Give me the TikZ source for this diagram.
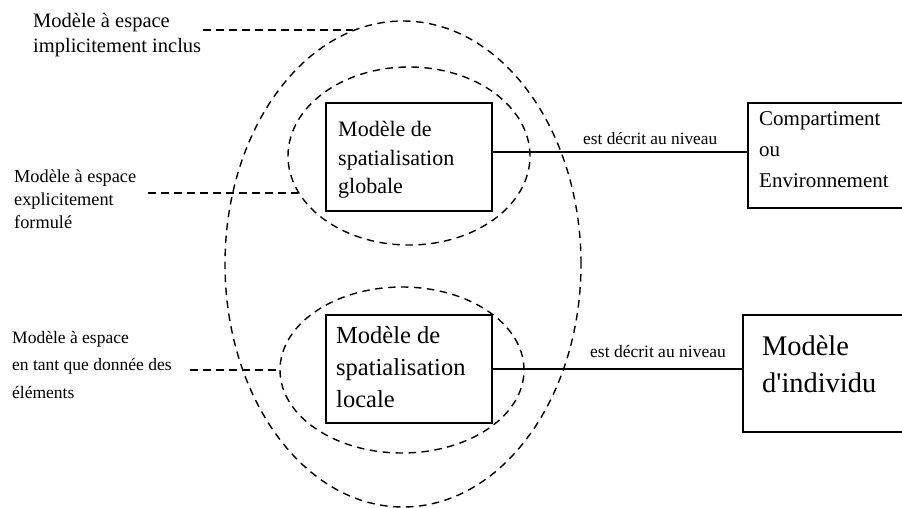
\documentclass[tikz,border=0pt]{standalone}
\usepackage{fontspec}
\setmainfont{Liberation Serif}[Ligatures=TeXOff]
\usetikzlibrary{shapes.geometric}
\begin{document}
\begin{tikzpicture}[x=1pt,y=-1pt,
  zone/.style={draw, ellipse, inner sep=0pt, line width=1.4pt, dash pattern=on 7.5pt off 5.5pt},
  lead/.style={line width=1.3pt, dash pattern=on 7.5pt off 5.5pt},
  box/.style={draw, rectangle, inner sep=0pt, line width=1.3pt},
  link/.style={line width=1.1pt},
  txt/.style={anchor=base west, inner sep=0pt, align=left},
]
\useasboundingbox (0,0) rectangle (902,508);

% nested dashed zones
\node[zone, minimum width=356pt, minimum height=486pt] (outer) at (403,264) {};
\node[zone, minimum width=242pt, minimum height=178pt] (upper) at (409,156) {};
\node[zone, minimum width=244pt, minimum height=166pt] (lower) at (402,370) {};

% model boxes
\node[box, minimum width=166pt, minimum height=108pt] (gbox) at (409,157) {};
\node[box, minimum width=166pt, minimum height=108pt] (lbox) at (409,369) {};
\node[box, minimum width=157pt, minimum height=105pt] (comp) at (826.5,155.5) {};
\node[box, minimum width=162pt, minimum height=117pt] (indiv) at (824,373.5) {};

% box texts (anchored at the baseline of their last line)
\node[txt, font=\fontsize{22}{28}\selectfont] (gtext) at (338,193)
  {Modèle de\\spatialisation\\globale};
\node[txt, font=\fontsize{24.5}{32}\selectfont] (ltext) at (336,407)
  {Modèle de\\spatialisation\\locale};
\node[txt, font=\fontsize{21}{31}\selectfont] (ctext) at (759,187)
  {Compartiment\\ou\\Environnement};
\node[txt, font=\fontsize{28.4}{37}\selectfont] (itext) at (762,392)
  {Modèle\\d'individu};

% links between levels
\draw[link] ([yshift=5pt]gbox.east) coordinate (ga) -- (ga -| comp.west);
\draw[link] (lbox.east) -- (lbox.east -| indiv.west);
\node[txt, font=\fontsize{17.3}{20}\selectfont] (lk1) at (583,144) {est décrit au niveau};
\node[txt, font=\fontsize{17.5}{20}\selectfont] (lk2) at (590,357) {est décrit au niveau};

% side labels
\node[txt, font=\fontsize{20.5}{25}\selectfont] (lab1) at (33,53)
  {Modèle à espace\\implicitement inclus};
\node[txt, font=\fontsize{18.3}{23}\selectfont] (lab2) at (14,228)
  {Modèle à espace\\explicitement\\formulé};
\node[txt, font=\fontsize{17.5}{27.5}\selectfont] (lab3) at (12,398)
  {Modèle à espace\\en tant que donnée des\\éléments};

% dashed leaders from labels to zones
\coordinate (s1) at (203,30);
\coordinate (s2) at (148,193);
\coordinate (s3) at (190,370);
\draw[lead] (s1) -- (s1 -| outer.102.5);
\draw[lead] (s2) -- (s2 -| upper.198.3);
\draw[lead] (s3) -- (s3 -| lower.west);
\end{tikzpicture}
\end{document}
